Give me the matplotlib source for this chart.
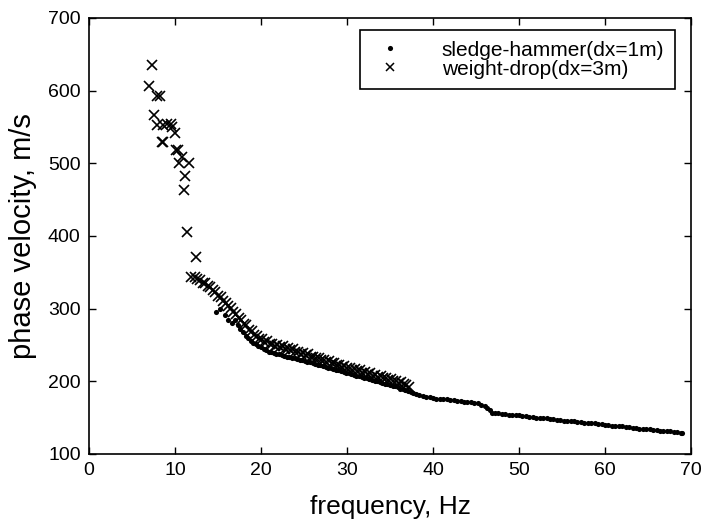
import matplotlib
matplotlib.use("Agg")
import matplotlib.pyplot as plt
from matplotlib.lines import Line2D

plt.rcParams['font.family'] = ['Liberation Sans', 'DejaVu Sans']

# sledge-hammer (dx=1m) picks: frequency (Hz), phase velocity (m/s)
sh_freq = [14.8, 15.2, 15.8, 16.2, 16.6, 17.0, 17.3, 17.6, 17.9, 18.2, 18.5, 18.8,
           19.1, 19.4, 19.7, 20.0, 20.3, 20.6, 20.9, 21.2, 21.5, 21.8, 22.1, 22.4,
           22.7, 23.0, 23.3, 23.6, 23.9, 24.2, 24.5, 24.8, 25.1, 25.4, 25.7, 26.0,
           26.3, 26.6, 26.9, 27.2, 27.5, 27.8, 28.1, 28.4, 28.7, 29.0, 29.3, 29.6,
           29.9, 30.2, 30.5, 30.8, 31.1, 31.4, 31.7, 32.0, 32.3, 32.6, 32.9, 33.2,
           33.5, 33.8, 34.1, 34.4, 34.7, 35.0, 35.3, 35.6, 35.9, 36.2, 36.5, 36.8,
           37.1, 37.4, 37.7, 38.0, 38.4, 38.8, 39.2, 39.6, 40.0, 40.4, 40.8, 41.2,
           41.6, 42.0, 42.4, 42.8, 43.2, 43.6, 44.0, 44.4, 44.8, 45.2, 45.6, 46.0,
           46.3, 46.6, 46.9, 47.2, 47.6, 48.0, 48.4, 48.8, 49.2, 49.6, 50.0, 50.4,
           50.8, 51.2, 51.6, 52.0, 52.4, 52.8, 53.2, 53.6, 54.0, 54.4, 54.8, 55.2,
           55.6, 56.0, 56.4, 56.8, 57.2, 57.6, 58.0, 58.4, 58.8, 59.2, 59.6, 60.0,
           60.4, 60.8, 61.2, 61.6, 62.0, 62.4, 62.8, 63.2, 63.6, 64.0, 64.4, 64.8,
           65.2, 65.6, 66.0, 66.4, 66.8, 67.2, 67.6, 68.0, 68.4, 68.8, 69.0]
sh_vel = [296, 300, 291, 285, 280, 284, 278, 272, 268, 263, 259, 256,
          253, 251, 249, 247, 245, 243, 241, 240, 239, 238, 237, 236,
          235, 234, 233, 232, 232, 231, 230, 229, 228, 227, 226, 225,
          224, 223, 222, 221, 220, 219, 218, 217, 216, 215, 214, 213,
          212, 211, 210, 209, 208, 207, 206, 205, 204, 203, 202, 201,
          200, 199, 198, 197, 196, 195, 194, 193, 192, 190, 189, 188,
          187, 186, 184, 183, 181, 180, 179, 178, 177, 176, 176, 175,
          175, 174, 174, 173, 173, 172, 172, 171, 170, 170, 168, 166,
          163, 160, 157, 157, 156, 155, 155, 154, 154, 153, 153, 152,
          152, 151, 151, 150, 150, 149, 149, 148, 148, 147, 147, 146,
          146, 145, 145, 144, 144, 143, 143, 142, 142, 141, 141, 140,
          140, 139, 139, 138, 138, 137, 137, 136, 136, 135, 135, 134,
          134, 133, 133, 132, 132, 131, 131, 130, 130, 129, 129]

# weight-drop (dx=3m) picks
wd_freq = [7.3, 7.0, 7.9, 8.3, 7.5, 7.9, 8.6, 9.1, 9.5, 9.7, 10.0, 8.5,
           8.6, 10.1, 10.3, 10.8, 10.5, 11.6, 11.2, 11.0, 11.4, 12.4, 11.9, 12.3,
           12.6, 12.9, 13.2, 13.5, 13.8, 14.1, 14.4, 14.7, 15.0, 15.3, 15.6, 15.9,
           16.2, 16.5, 16.8, 17.1, 17.4, 17.7, 18.0, 18.3, 18.6, 18.9, 19.2, 19.5,
           19.8, 20.1, 20.4, 20.7, 21.0, 21.3, 21.6, 21.9, 22.2, 22.5, 22.8, 23.1,
           23.4, 23.7, 24.0, 24.3, 24.6, 24.9, 25.2, 25.5, 25.8, 26.1, 26.4, 26.7,
           27.0, 27.3, 27.6, 27.9, 28.2, 28.5, 28.8, 29.1, 29.4, 29.7, 30.0, 30.3,
           30.6, 30.9, 31.2, 31.5, 31.8, 32.1, 32.4, 32.7, 33.0, 33.3, 33.6, 33.9,
           34.2, 34.5, 34.8, 35.1, 35.4, 35.7, 36.0, 36.3, 36.6, 36.9, 37.2]
wd_vel = [636, 606, 593, 593, 566, 553, 553, 554, 554, 550, 542, 530,
          530, 519, 519, 509, 500, 500, 482, 463, 405, 371, 344, 343,
          341, 340, 336, 335, 331, 330, 325, 323, 318, 316, 311, 308,
          303, 301, 296, 293, 287, 285, 279, 277, 271, 269, 264, 262,
          258, 258, 254, 255, 251, 252, 249, 250, 247, 248, 245, 246,
          243, 244, 241, 241, 238, 239, 236, 237, 234, 234, 232, 232,
          229, 230, 227, 228, 225, 225, 223, 223, 220, 221, 218, 219,
          216, 217, 214, 215, 212, 213, 210, 211, 208, 209, 206, 207,
          204, 205, 202, 203, 200, 201, 198, 199, 196, 195, 192]

fig = plt.figure(figsize=(7.04, 5.21), dpi=100)
ax = fig.add_axes([89 / 704, 1 - 454 / 521, 602 / 704, 436 / 521])

ax.plot(sh_freq, sh_vel, linestyle='none', marker='o', markersize=3.7,
        color='black', markeredgewidth=0)
ax.plot(wd_freq, wd_vel, linestyle='none', marker='x', markersize=7,
        color='black', markeredgewidth=1.2)

ax.set_xlim(0, 70)
ax.set_ylim(100, 700)
ax.set_xticks([0, 10, 20, 30, 40, 50, 60, 70])
ax.set_yticks([100, 200, 300, 400, 500, 600, 700])
ax.tick_params(direction='in', length=5, width=1, top=True, right=True,
               labelsize=14, pad=6)
for s in ax.spines.values():
    s.set_linewidth(1.2)

ax.set_xlabel('frequency, Hz', fontsize=19, labelpad=11)
ax.set_ylabel('phase velocity, m/s', fontsize=21, labelpad=8)

handles = [Line2D([], [], linestyle='none', marker='o', markersize=3.7,
                  color='black', markeredgewidth=0),
           Line2D([], [], linestyle='none', marker='x', markersize=6,
                  color='black', markeredgewidth=1.1)]
leg = ax.legend(handles, ['sledge-hammer(dx=1m)', 'weight-drop(dx=3m)'],
                loc='upper right', bbox_to_anchor=(0.973, 0.972),
                fontsize=15, frameon=True, fancybox=False, framealpha=1,
                edgecolor='black', borderpad=0.5, labelspacing=0.0,
                handlelength=1.9, handletextpad=1.55, borderaxespad=0)
leg.get_frame().set_linewidth(1.2)

fig.savefig('out.png', dpi=100)
